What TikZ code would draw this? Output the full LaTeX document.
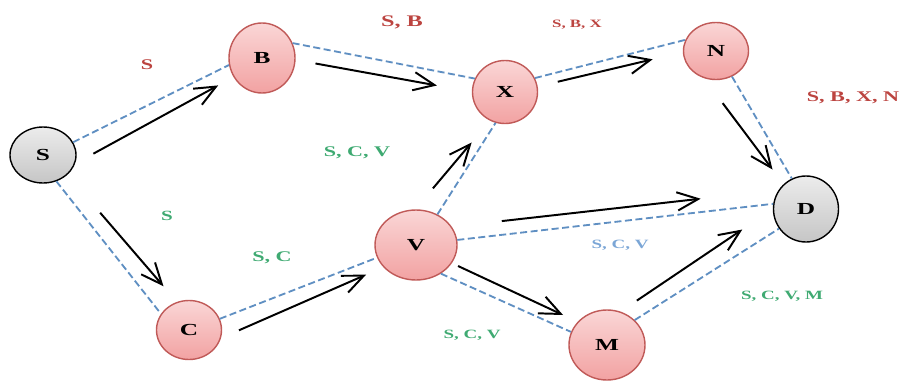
\documentclass[tikz,border=0pt]{standalone}
\usepackage{fontspec}
\setmainfont{Liberation Serif}[FakeStretch=1.5]
\usetikzlibrary{arrows.meta,calc,shapes.geometric}

\definecolor{pinktop}{HTML}{FAD6D6}
\definecolor{pinkbot}{HTML}{F2A2A2}
\definecolor{pinkedge}{HTML}{C05A58}
\definecolor{linkblue}{HTML}{5F8FC2}
\definecolor{tagred}{HTML}{BC4440}
\definecolor{taggreen}{HTML}{3FAA72}
\definecolor{tagblue}{HTML}{7BA6D6}

\begin{document}
\begin{tikzpicture}[x=0.025cm, y=-0.025cm,
  router/.style={ellipse, draw=pinkedge, line width=1pt, top color=pinktop, bottom color=pinkbot,
    inner sep=0pt, font=\fontsize{12}{12}\selectfont\bfseries},
  endpoint/.style={router, draw=black, top color=gray!15, bottom color=gray!45},
  link/.style={dashed, dash pattern=on 5pt off 2.5pt, linkblue, line width=1.3pt},
  flow/.style={-{Straight Barb[length=15pt,width=13pt]}, line width=1.4pt},
  tag/.style={inner sep=0pt, font=\fontsize{#1}{#1}\selectfont\bfseries}]

\useasboundingbox (0,0) rectangle (904,383);

% Nodes
\node[endpoint, minimum width=66*0.025cm, minimum height=56*0.025cm] (S) at (43,155) {S};
\node[router, minimum width=66*0.025cm, minimum height=70*0.025cm] (B) at (262,58) {B};
\node[router, minimum width=65*0.025cm, minimum height=63*0.025cm] (X) at (505,92) {X};
\node[router, minimum width=65*0.025cm, minimum height=57*0.025cm] (N) at (716,51) {N};
\node[endpoint, minimum width=65*0.025cm, minimum height=66*0.025cm] (D) at (806,209) {D};
\node[router, minimum width=82*0.025cm, minimum height=70*0.025cm] (V) at (416,245) {V};
\node[router, minimum width=65*0.025cm, minimum height=59*0.025cm] (C) at (189,330) {C};
\node[router, minimum width=76*0.025cm, minimum height=70*0.025cm] (M) at (607,345) {M};

% Links
\draw[link] (S.23) -- (B.192);
\draw[link] (B.26) -- (X.156);
\draw[link] (X.25) -- (N.160);
\draw[link] (N.302) -- (D.115);
\draw[link] (S.297) -- (C.150);
\draw[link] (C.20) -- (V.198);
\draw[link] (V.55) -- (X.253);
\draw[link] (V.7) -- (D.171);
\draw[link] (V.311) -- (M.160);
\draw[link] (M.42) -- (D.216);

% Upper route
\draw[flow] ($(S)!.23!(B)+(0,21)$) -- ($(S)!.8!(B)+(0,8)$);
\draw[flow] ($(B)!.22!(X)+(0,-2)$) -- ($(B)!.72!(X)+(0,3)$);
\draw[flow] ($(X)!.25!(N)+(0,0)$) -- ($(X)!.7!(N)+(0,-4)$);
\draw[flow] ($(N)!.33!(D)+(-23,0)$) -- ($(N)!.75!(D)+(-11,0)$);

% Lower route
\draw[flow] ($(S)!.33!(C)+(9,0)$) -- ($(S)!.75!(C)+(11,0)$);
\draw[flow] ($(C)!.22!(V)+(0,19)$) -- ($(C)!.78!(V)+(0,11)$);
\draw[flow] ($(V)!.37!(X)+(-16,0)$) -- ($(V)!.67!(X)+(-4,0)$);
\draw[flow] ($(V)!.22!(D)+(0,-16)$) -- ($(V)!.73!(D)+(0,-20)$);
\draw[flow] ($(V)!.22!(M)+(0,-1)$) -- ($(V)!.77!(M)+(0,-7)$);
\draw[flow] ($(M)!.15!(D)+(0,-24)$) -- ($(M)!.68!(D)+(0,-23)$);

% Route records
\node[tag=10.5, tagred] (tagS) at (147,65) {S};
\node[tag=11.5, tagred] (tagSB) at (402,22) {S, B};
\node[tag=8, tagred] (tagSBX) at (577,25) {S, B, X};
\node[tag=10.5, tagred] (tagSBXN) at (853,98) {S, B, X, N};
\node[tag=10.5, taggreen] (tagSCVup) at (357,153) {S, C, V};
\node[tag=10, taggreen] (tagSlow) at (167,216) {S};
\node[tag=10.5, taggreen] (tagSC) at (272,258) {S, C};
\node[tag=9, tagblue] (tagSCVmid) at (620,245) {S, C, V};
\node[tag=9, taggreen] (tagSCVlow) at (472,335) {S, C, V};
\node[tag=9, taggreen] (tagSCVM) at (782,296) {S, C, V, M};

\end{tikzpicture}
\end{document}
